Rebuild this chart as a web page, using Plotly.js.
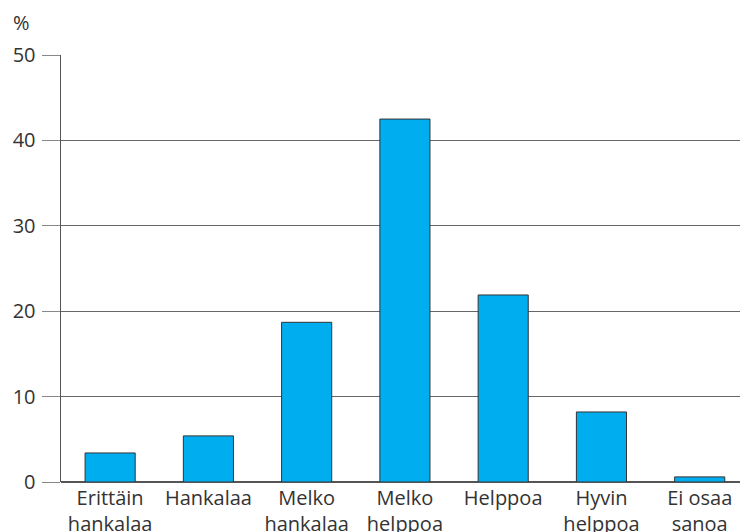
<!DOCTYPE html>
<html><head><meta charset="utf-8">
<script src="https://cdn.plot.ly/plotly-3.0.1.min.js"></script>
<style>html,body{margin:0;padding:0;background:#fff}#chart{width:740px;height:532px}</style>
</head><body><div id="chart"></div>
<script>
const categories = ["Erittäin<br>hankalaa","Hankalaa","Melko<br>hankalaa","Melko<br>helppoa","Helppoa","Hyvin<br>helppoa","Ei osaa<br>sanoa"];
const values = [3.4, 5.4, 18.7, 42.5, 21.9, 8.2, 0.6];
const yTicks = [0, 10, 20, 30, 40, 50];

const font = {family: "Open Sans, DejaVu Sans, sans-serif", size: 20, color: "#333"};
Plotly.newPlot("chart", [{
  type: "bar", x: categories, y: values, width: 0.51,
  marker: {color: "#00AEEF", line: {color: "#333", width: 1}},
  hoverinfo: "none"
}], {
  width: 740, height: 532,
  margin: {l: 61, r: 0, t: 55, b: 50, pad: 0},
  paper_bgcolor: "#fff", plot_bgcolor: "#fff",
  font: font, showlegend: false,
  xaxis: {range: [-0.5, 6.41], showline: false, ticks: "", tickfont: font, fixedrange: true, automargin: false, ticklabelstandoff: 2},
  yaxis: {range: [0, 50], tickvals: yTicks, showgrid: true, gridcolor: "#666", gridwidth: 1,
          showline: true, linecolor: "#555", linewidth: 1.5, ticks: "outside", ticklen: 18, tickcolor: "#888",
          tickfont: font, zeroline: true, zerolinecolor: "#555", zerolinewidth: 1.5, automargin: false, ticklabelstandoff: 2},
  annotations: [{text: "%", xref: "paper", yref: "paper", x: -0.058, y: 1.075, xanchor: "center", yanchor: "middle",
                 showarrow: false, font: font}]
}, {staticPlot: true});
</script></body></html>
